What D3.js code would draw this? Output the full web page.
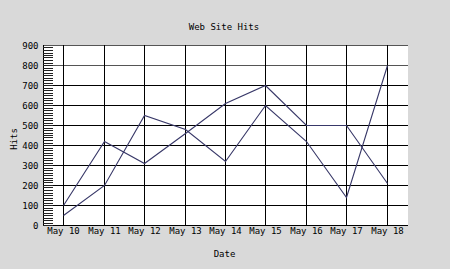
<!DOCTYPE html>
<html>
<head>
<meta charset="utf-8">
<script src="https://d3js.org/d3.v7.min.js"></script>
<style>
  body { margin: 0; background: #d9d9d9; }
  text { font-family: "DejaVu Sans Mono", monospace; font-size: 9px; fill: #000; }
</style>
</head>
<body>
<svg></svg>
<script>
// data
var dates = ["May 10", "May 11", "May 12", "May 13", "May 14", "May 15", "May 16", "May 17", "May 18"];
var hitsA = [100, 420, 310, 460, 610, 700, 500, 500, 210];
var hitsB = [50, 200, 550, 480, 320, 600, 420, 140, 800];
var yTicks = [0, 100, 200, 300, 400, 500, 600, 700, 800, 900];

var width = 450;
var height = 269;
// plot box (note: "top" is reserved on window, so use plot*)
var plotLeft = 43, plotRight = 407, plotTop = 45, plotBottom = 225;

// scales
var xScale =
  d3.scaleBand()
    .domain(dates)
    .range([plotLeft, plotRight]);

var yScale =
  d3.scaleLinear()
    .domain([0, 900])
    .range([plotBottom + 0.5, plotTop + 0.5]);

var cx = d => Math.round(xScale(d) + xScale.bandwidth() / 2) + 0.5;

var svg =
  d3.select("svg")
    .attr("width", width)
    .attr("height", height);

// plot background
svg.append("rect")
  .attr("x", plotLeft)
  .attr("y", plotTop)
  .attr("width", plotRight - plotLeft + 1)
  .attr("height", plotBottom - plotTop)
  .attr("fill", "#fff");

// horizontal grid
svg.append("g")
  .selectAll("line")
  .data(yTicks)
  .enter()
    .append("line")
    .attr("x1", plotLeft)
    .attr("x2", plotRight + 1)
    .attr("y1", d => yScale(d))
    .attr("y2", d => yScale(d))
    .attr("stroke", d => d >= 800 ? "#555" : "#000")
    .attr("stroke-width", 1);

// vertical grid
svg.append("g")
  .selectAll("line")
  .data(dates)
  .enter()
    .append("line")
    .attr("x1", cx)
    .attr("x2", cx)
    .attr("y1", plotTop)
    .attr("y2", plotBottom + 1)
    .attr("stroke", "#000");

// left axis with inward minor ticks
svg.append("line")
  .attr("x1", plotLeft + 0.5)
  .attr("x2", plotLeft + 0.5)
  .attr("y1", plotTop)
  .attr("y2", plotBottom + 1)
  .attr("stroke", "#000");

svg.append("g")
  .selectAll("line")
  .data(d3.range(0, 900, 12.5))
  .enter()
    .append("line")
    .attr("x1", plotLeft)
    .attr("x2", plotLeft + 10)
    .attr("y1", d => Math.round(yScale(d) - 0.5) + 0.5)
    .attr("y2", d => Math.round(yScale(d) - 0.5) + 0.5)
    .attr("stroke", "#222");

// tick labels
svg.append("g")
  .selectAll("text")
  .data(yTicks)
  .enter()
    .append("text")
    .attr("x", 38.5)
    .attr("y", d => yScale(d))
    .attr("dy", "0.35em")
    .attr("text-anchor", "end")
    .text(d => d);

svg.append("g")
  .selectAll("text")
  .data(dates)
  .enter()
    .append("text")
    .attr("x", cx)
    .attr("y", 234)
    .attr("text-anchor", "middle")
    .text(d => d);

// titles
svg.append("text")
  .attr("x", 224)
  .attr("y", 30)
  .attr("text-anchor", "middle")
  .text("Web Site Hits");

svg.append("text")
  .attr("x", 224.5)
  .attr("y", 257)
  .attr("text-anchor", "middle")
  .text("Date");

svg.append("text")
  .attr("transform", "translate(17,139) rotate(-90)")
  .attr("text-anchor", "middle")
  .text("Hits");

// series lines
var line =
  d3.line()
    .x((d, i) => cx(dates[i]))
    .y(d => yScale(d));

[hitsA, hitsB].forEach(series => {
  svg.append("path")
    .datum(series)
    .attr("d", line)
    .attr("fill", "none")
    .attr("stroke", "#383868")
    .attr("stroke-width", 1.1);
});
</script>
</body>
</html>
